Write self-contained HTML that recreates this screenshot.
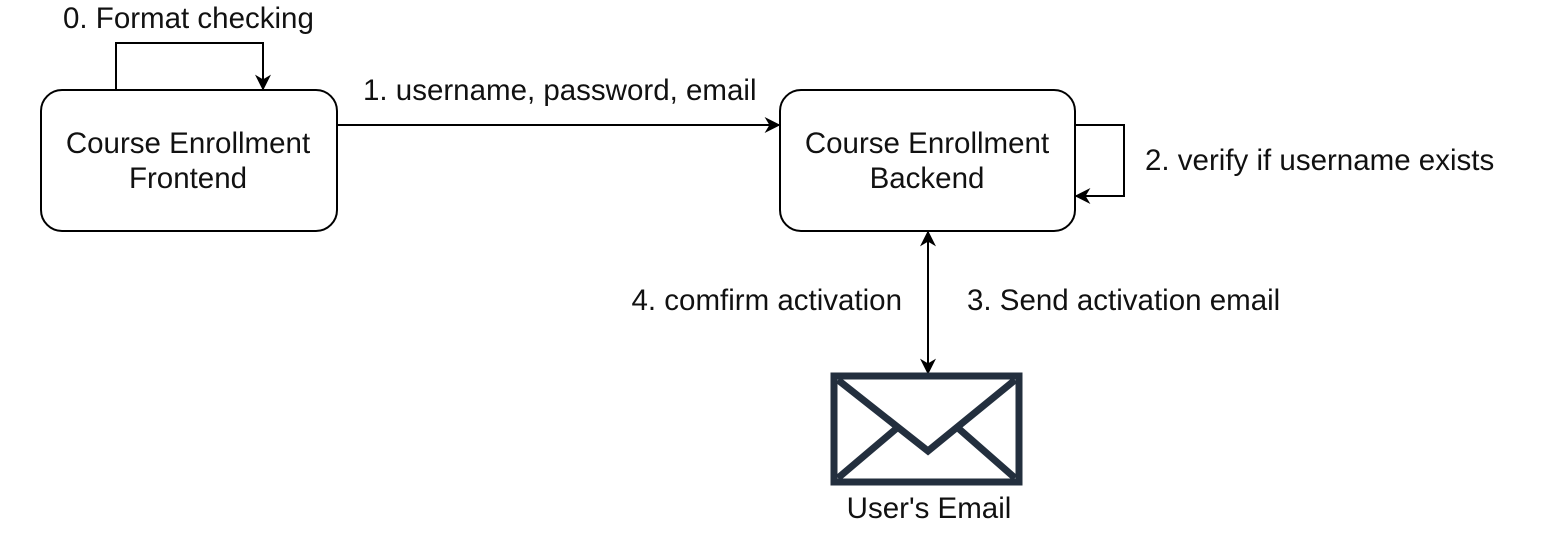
<!DOCTYPE html>
<html><head><meta charset="utf-8"><style>
html,body{margin:0;padding:0;background:#fff;}
svg{display:block}
text{font-family:"Liberation Sans",Arial,sans-serif;font-size:29.5px;fill:#111;}
</style></head><body>
<svg width="1542" height="536" viewBox="0 0 1542 536" xmlns="http://www.w3.org/2000/svg">
<defs>
<marker id="b" viewBox="0 0 10 10" refX="9" refY="5" markerWidth="16" markerHeight="16" orient="auto-start-reverse" markerUnits="userSpaceOnUse">
<path d="M0,0 L10,5 L0,10 L3,5 z" fill="#000"/>
</marker>
</defs>
<rect x="41" y="90" width="296" height="141" rx="21" fill="#fff" stroke="#000" stroke-width="2"/>
<rect x="780" y="90" width="295" height="141" rx="21" fill="#fff" stroke="#000" stroke-width="2"/>
<text x="188" y="153" text-anchor="middle">Course Enrollment</text>
<text x="188" y="188" text-anchor="middle">Frontend</text>
<text x="927" y="153" text-anchor="middle">Course Enrollment</text>
<text x="927" y="188" text-anchor="middle">Backend</text>
<path d="M116,90 V43 H263 V89" fill="none" stroke="#000" stroke-width="2" marker-end="url(#b)"/>
<path d="M337,125 H779" fill="none" stroke="#000" stroke-width="2" marker-end="url(#b)"/>
<path d="M1075,125 H1124 V196 H1076" fill="none" stroke="#000" stroke-width="2" marker-end="url(#b)"/>
<path d="M928,232 V373" fill="none" stroke="#000" stroke-width="2" marker-start="url(#b)" marker-end="url(#b)"/>
<rect x="834" y="376" width="185" height="106" fill="#fff" stroke="#232f3e" stroke-width="7"/>
<path d="M838,380 L928,451 L1015,380 M838,478 L897,428 M1015,478 L958,428" fill="none" stroke="#232f3e" stroke-width="7"/>
<text x="63" y="28">0. Format checking</text>
<text x="363" y="100">1. username, password, email</text>
<text x="1145" y="170">2. verify if username exists</text>
<text x="902" y="310" text-anchor="end">4. comfirm activation</text>
<text x="967" y="310">3. Send activation email</text>
<text x="929" y="518" text-anchor="middle">User's Email</text>
</svg>
</body></html>
